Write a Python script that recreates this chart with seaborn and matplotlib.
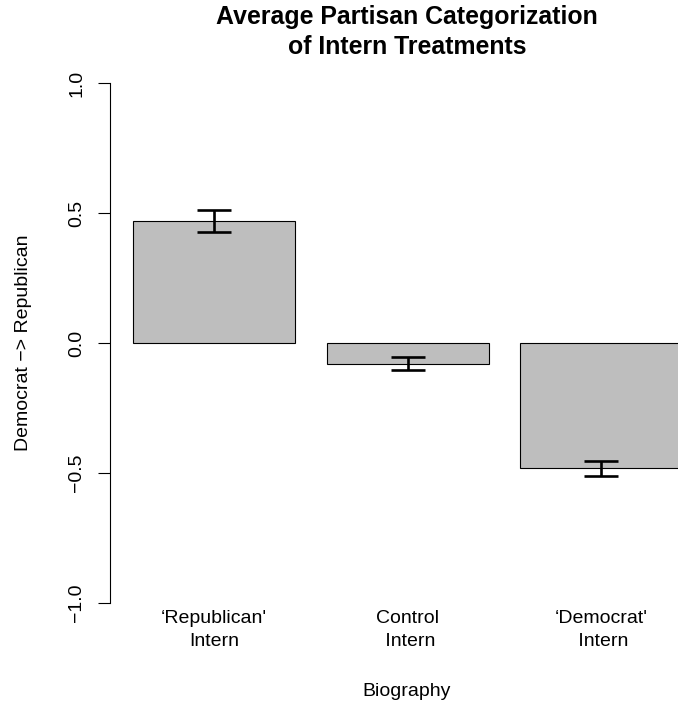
import matplotlib
matplotlib.use("Agg")
import matplotlib.pyplot as plt
import seaborn as sns
import numpy as np
import pandas as pd

categories = ["\u2018Republican'\nIntern", "Control\n Intern", "\u2018Democrat'\n Intern"]
means = [0.469, -0.080, -0.481]
errors = [0.043, 0.025, 0.029]
yticks = [-1.0, -0.5, 0.0, 0.5, 1.0]
ytick_labels = ["-1.0", "-0.5", "0.0", "0.5", "1.0"]
title = "Average Partisan Categorization\nof Intern Treatments"
xlabel = "Biography"
ylabel = "Democrat \u2212> Republican"

sns.set_style("white")
plt.rcParams['font.family'] = ['Liberation Sans', 'DejaVu Sans']
plt.rcParams['axes.unicode_minus'] = True
plt.rcParams['text.color'] = 'black'
plt.rcParams['axes.labelcolor'] = 'black'
plt.rcParams['xtick.color'] = 'black'
plt.rcParams['ytick.color'] = 'black'

W, H = 678, 706
fig = plt.figure(figsize=(W / 100, H / 100), dpi=100)
ax_left = 110 / W
ax_bottom = (H - 623.8) / H
ax_h = (623.8 - 62.2) / H
ax_w = 593.6 / W
ax = fig.add_axes([ax_left, ax_bottom, ax_w, ax_h])

df = pd.DataFrame({"cat": categories, "mean": means})
sns.barplot(data=df, x="cat", y="mean", color="#BEBEBE", saturation=1,
            width=0.837, edgecolor="black", linewidth=0.8, ax=ax)
ax.errorbar(np.arange(len(categories)), means, yerr=errors, fmt="none",
            ecolor="black", elinewidth=1.9, capsize=12.3, capthick=1.9, zorder=5)

ax.set_xlim(-0.5375, 2.53)
ax.set_ylim(-1.08, 1.08)

for s in ["top", "right", "bottom"]:
    ax.spines[s].set_visible(False)
ax.spines["left"].set_bounds(-1, 1)
ax.spines["left"].set_color("black")
ax.spines["left"].set_linewidth(0.8)

ax.set_yticks(yticks)
ax.set_yticklabels([t.replace("-", "\u2212") for t in ytick_labels])
ax.tick_params(axis="y", direction="out", length=8.6, width=0.8, color="black",
               pad=15.2, labelsize=14, left=True, labelcolor="black")
for lab in ax.get_yticklabels():
    lab.set_rotation(90)
    lab.set_va("center")
    lab.set_ha("center")

ax.set_xticks(range(len(categories)))
ax.set_xticklabels(categories)
ax.tick_params(axis="x", length=0, pad=4.5, labelsize=14, labelcolor="black")
for lab in ax.get_xticklabels():
    lab.set_va("center")
    lab.set_linespacing(1.4)

ax.set_xlabel(xlabel, fontsize=14, va="center", color="black")
ax.xaxis.set_label_coords(0.5, -(691 - 623.8) / (623.8 - 62.2))
ax.set_ylabel(ylabel, fontsize=14, va="center", color="black")
ax.yaxis.set_label_coords(-(110 - 23) / 593.6, 0.5)

ax.set_title(title, fontsize=17.9, fontweight="bold", y=(623.8 - 32) / (623.8 - 62.2),
             va="center", pad=0, linespacing=1.3, color="black")

fig.savefig("out.png", dpi=100)
